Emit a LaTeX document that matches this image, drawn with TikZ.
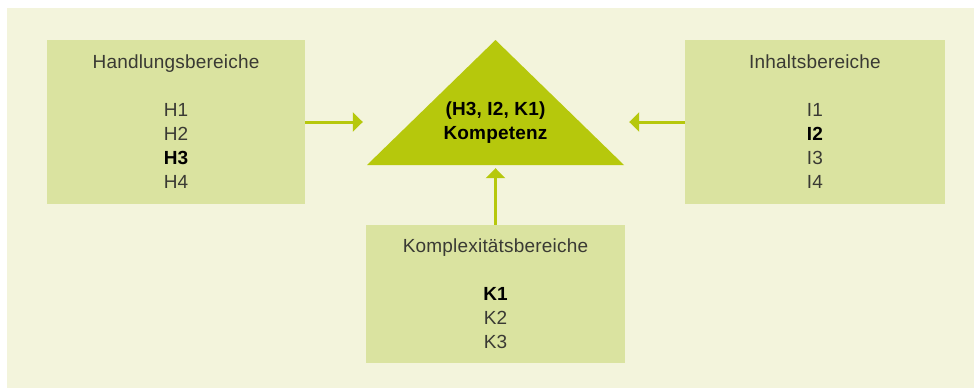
\documentclass[tikz,border=0pt]{standalone}
\usepackage{fontspec}
\setmainfont{Liberation Sans}
\usepackage{xcolor}
\usetikzlibrary{arrows.meta,backgrounds}

\definecolor{bgcream}{RGB}{243,244,220}
\definecolor{boxgreen}{RGB}{218,227,160}
\definecolor{kompgreen}{RGB}{182,200,12}
\definecolor{txtgray}{RGB}{58,58,52}

\newcommand\bereichfont{\fontsize{19}{24}\selectfont\addfontfeatures{LetterSpace=1}}
\newcommand\aktiv[1]{{\color{black}\bfseries #1}}

\tikzset{
  bereich/.style={rectangle, fill=boxgreen, inner sep=0pt,
                  minimum width=258pt, minimum height=164pt,
                  align=center, font=\bereichfont, text=txtgray},
  kompetenz/.style={rectangle, inner sep=0pt,
                    minimum width=257pt, minimum height=125pt,
                    path picture={\fill[kompgreen]
                      (path picture bounding box.south west) --
                      (path picture bounding box.north) --
                      (path picture bounding box.south east) -- cycle;}},
  pfeil/.style={-{Triangle[length=10pt,width=19pt]}, line width=3pt, kompgreen},
}

\begin{document}
\begin{tikzpicture}[x=1pt, y=-1pt,
  komptext/.style={align=center, font=\bereichfont\bfseries, text=black},
]

%% Frame and background
\useasboundingbox (0,0) rectangle (974,388);
\fill[bgcream] (7,8) rectangle (974,388);

%% Column positions
\def\xH{176}    % Handlungsbereiche
\def\xK{495.5}  % Kompetenz / Komplexitaet
\def\xI{815}    % Inhaltsbereiche

%% Boxes
\node[bereich] (hb) at (\xH,122)
  {Handlungsbereiche\\[24pt]H1\\H2\\\aktiv{H3}\\H4};
\node[bereich, minimum width=260pt] (ib) at (\xI,122)
  {Inhaltsbereiche\\[24pt]I1\\\aktiv{I2}\\I3\\I4};
\node[bereich, minimum width=259pt, minimum height=138pt] (kb) at (\xK,294)
  {Komplexitätsbereiche\\[24pt]\aktiv{K1}\\K2\\K3};

%% Triangle
\node[kompetenz] (komp) at (\xK,102.5) {};
\node[komptext] (komp-text) at (\xK,123) {(H3, I2, K1)\\Kompetenz};

%% Arrows
\draw[pfeil, shorten >=4pt] (hb) -- (komp.west |- hb);
\draw[pfeil, shorten >=5pt] (ib) -- (komp.east |- ib);
\draw[pfeil, shorten >=3pt] (kb) -- (komp.south);

\end{tikzpicture}
\end{document}
